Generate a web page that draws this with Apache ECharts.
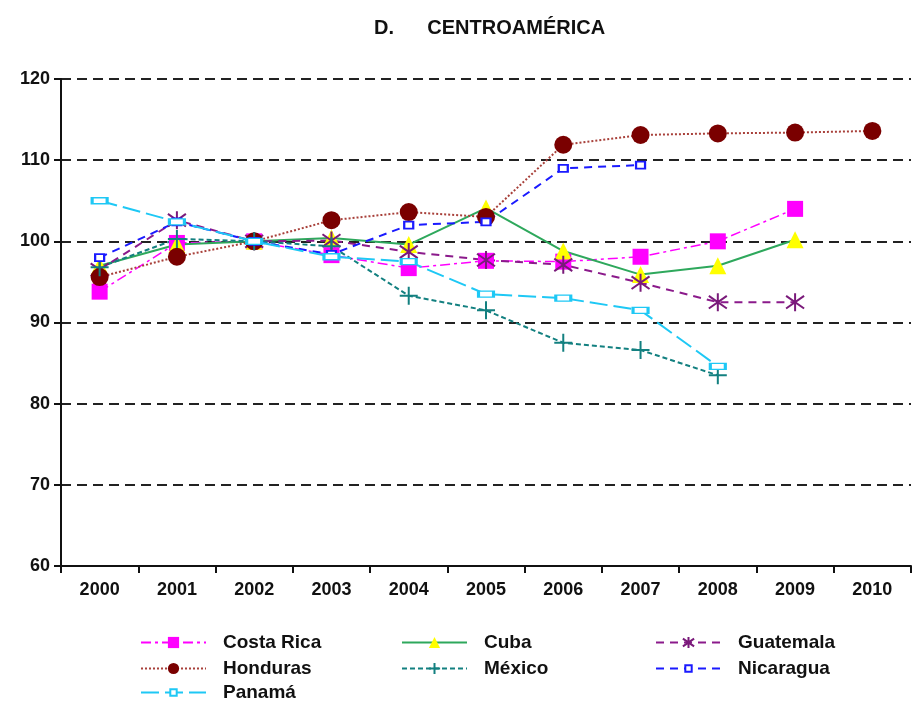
<!DOCTYPE html>
<html>
<head>
<meta charset="utf-8">
<script src="https://cdn.jsdelivr.net/npm/echarts@6/dist/echarts.min.js"></script>
<style>
  html, body { margin: 0; padding: 0; background: #fff; }
  #chart { width: 913px; height: 703px; }
</style>
</head>
<body>
<div id="chart"></div>
<script>
  // years on the x axis
  var years = ['2000', '2001', '2002', '2003', '2004', '2005', '2006', '2007', '2008', '2009', '2010'];

  // index values, 2002 = 100
  var costaRica = [93.8, 99.8, 100, 98.3, 96.7, 97.6, 97.5, 98.1, 100.0, 104.0, null];
  var cuba      = [97.0, 99.6, 100, 100.4, 99.6, 104.1, 98.8, 95.9, 97.0, 100.2, null];
  var guatemala = [96.5, 102.6, 100, 100.1, 98.7, 97.7, 97.1, 94.9, 92.5, 92.5, null];
  var honduras  = [95.6, 98.1, 100, 102.6, 103.6, 103.0, 111.9, 113.1, 113.3, 113.4, 113.6];
  var mexico    = [96.8, 100.3, 100, 99.4, 93.3, 91.5, 87.5, 86.6, 83.5, null, null];
  var nicaragua = [98.0, 102.4, 100, 98.4, 102.0, 102.4, 109.0, 109.4, null, null, null];
  var panama    = [105.0, 102.4, 100, 98.1, 97.5, 93.5, 93.0, 91.5, 84.6, null, null];

  var yTicks = [60, 70, 80, 90, 100, 110, 120];

  var font = 'Liberation Sans, Arial, sans-serif';
  var myChart = echarts.init(document.getElementById('chart'));

  function mkSeries(name, data, lineColor, lineType, lineWidth, symbol, symbolSize, fill, border, borderWidth) {
    return {
      name: name,
      type: 'line',
      data: data,
      symbol: symbol,
      symbolSize: symbolSize,
      showAllSymbol: true,
      connectNulls: false,
      lineStyle: { color: lineColor, type: lineType, width: lineWidth },
      itemStyle: { color: fill, borderColor: border, borderWidth: borderWidth },
      emphasis: { disabled: true }
    };
  }

  var asterisk = 'path://M0,-10L0,10M-9,-7L9,7M-9,7L9,-7';
  var plus = 'path://M-10,0L10,0M0,-10L0,10';

  var seriesList = [
    mkSeries('Costa Rica', costaRica, '#ff00ff', [10, 4, 3, 4], 1.5, 'rect', 16, '#ff00ff', '#ff00ff', 0),
    mkSeries('Cuba', cuba, '#2ea85c', 'solid', 2, 'triangle', 17, '#ffff00', '#ffff00', 0),
    mkSeries('Guatemala', guatemala, '#8b1a8b', [8, 6], 2, asterisk, 18, 'none', '#7a1a7a', 2),
    mkSeries('Honduras', honduras, '#a8403a', [2, 2], 2, 'circle', 18, '#7a0000', '#7a0000', 0),
    mkSeries('México', mexico, '#138080', [5, 3], 2, plus, 18, 'none', '#138080', 2),
    mkSeries('Nicaragua', nicaragua, '#1a1aff', [8, 6], 2, 'rect', [9, 7], '#ffffff', '#1a1aff', 2),
    mkSeries('Panamá', panama, '#1ec8f5', [18, 6], 2, 'rect', [15, 6], '#ffffff', '#1ec8f5', 2)
  ];

  // one legend box per entry, laid out in 3 columns like the original
  function mkLegend(left, top, name, iconH) {
    return {
      orient: 'horizontal',
      left: left,
      top: top,
      padding: 0,
      itemWidth: 65,
      itemHeight: iconH || 14,
      data: [name],
      textStyle: { fontFamily: font, fontSize: 19, fontWeight: 'bold', color: '#111', padding: [0, 0, 0, 12] }
    };
  }

  var colLeft = [140, 401, 655];
  var rowTop = [633, 659, 683];

  myChart.setOption({
    animation: false,
    title: {
      text: 'D.      CENTROAMÉRICA',
      left: 369,
      top: 13,
      textStyle: { fontFamily: font, fontSize: 20, fontWeight: 'bold', color: '#111' }
    },
    legend: [
      mkLegend(colLeft[0], rowTop[0], 'Costa Rica'),
      mkLegend(colLeft[1], rowTop[0], 'Cuba'),
      mkLegend(colLeft[2], rowTop[0], 'Guatemala'),
      mkLegend(colLeft[0], rowTop[1], 'Honduras'),
      mkLegend(colLeft[1], rowTop[1], 'México'),
      mkLegend(colLeft[2], rowTop[1], 'Nicaragua', 8),
      mkLegend(colLeft[0], rowTop[2], 'Panamá', 8)
    ],
    grid: { left: 61, right: 2, top: 79, bottom: 137, containLabel: false },
    xAxis: {
      type: 'category',
      data: years,
      boundaryGap: true,
      axisLine: { lineStyle: { color: '#111', width: 2 } },
      axisTick: { show: true, length: 7, lineStyle: { color: '#111', width: 2 } },
      axisLabel: { margin: 15, fontFamily: font, fontSize: 18, fontWeight: 'bold', color: '#111' }
    },
    yAxis: {
      type: 'value',
      min: yTicks[0],
      max: yTicks[yTicks.length - 1],
      interval: 10,
      axisLine: { show: true, lineStyle: { color: '#111', width: 2 } },
      axisTick: { show: true, length: 7, lineStyle: { color: '#111', width: 2 } },
      axisLabel: { margin: 11, fontFamily: font, fontSize: 18, fontWeight: 'bold', color: '#111' },
      splitLine: { show: true, lineStyle: { color: '#222', width: 2, type: [10, 6] } }
    },
    series: seriesList
  });
</script>
</body>
</html>
